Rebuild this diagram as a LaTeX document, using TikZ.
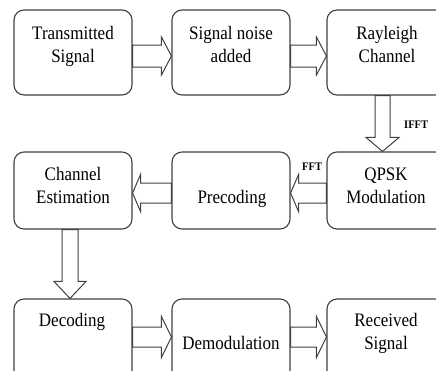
\documentclass[tikz,border=0pt]{standalone}
\usepackage{fontspec}
\setmainfont{Liberation Serif}
\usetikzlibrary{calc}
\tikzset{
  box/.style={draw=black!75, line width=1.1pt, rounded corners=10pt, fill=white, inner sep=0pt},
  txt/.style={anchor=north, align=center, inner sep=0pt, yscale=1.12, transform shape,
              font=\fontsize{17}{20.5}\selectfont},
  small/.style={inner sep=0pt, yscale=1.1, transform shape, font=\bfseries\fontsize{10.5}{12}\selectfont},
  barrow/.style={draw=black!75, line width=1pt, fill=white, line join=miter},
}
% right-pointing block arrow: from, to, ycenter, shaft half, head half, head length
\newcommand\rblock[6]{%
  \draw[barrow] let \p1=(#1.east |- 0,#3), \p2=(#2.west |- 0,#3) in
    (\x1,\y1+#4pt) -- (\x2-#6pt,\y1+#4pt) -- (\x2-#6pt,\y1+#5pt) -- (\x2,\y1)
    -- (\x2-#6pt,\y1-#5pt) -- (\x2-#6pt,\y1-#4pt) -- (\x1,\y1-#4pt) -- cycle;}
% left-pointing block arrow
\newcommand\lblock[6]{%
  \draw[barrow] let \p1=(#1.west |- 0,#3), \p2=(#2.east |- 0,#3) in
    (\x1,\y1+#4pt) -- (\x2+#6pt,\y1+#4pt) -- (\x2+#6pt,\y1+#5pt) -- (\x2,\y1)
    -- (\x2+#6pt,\y1-#5pt) -- (\x2+#6pt,\y1-#4pt) -- (\x1,\y1-#4pt) -- cycle;}
% down-pointing block arrow: from, to, xcenter, ...
\newcommand\dblock[6]{%
  \draw[barrow] let \p1=(#1.south -| #3,0), \p2=(#2.north -| #3,0) in
    (\x1-#4pt,\y1) -- (\x1-#4pt,\y2+#6pt) -- (\x1-#5pt,\y2+#6pt) -- (\x1,\y2)
    -- (\x1+#5pt,\y2+#6pt) -- (\x1+#4pt,\y2+#6pt) -- (\x1+#4pt,\y1) -- cycle;}
\begin{document}
\begin{tikzpicture}[x=1pt,y=-1pt]
\useasboundingbox (0,0) rectangle (436,370);
\clip (0,0) rectangle (436,370);
% boxes
\node[box, minimum width=118pt, minimum height=85pt] (b1) at (73,52.5) {};
\node[box, minimum width=118pt, minimum height=85pt] (b2) at (231,52.5) {};
\node[box, minimum width=118pt, minimum height=85pt] (b3) at (386,52.5) {};
\node[box, minimum width=118pt, minimum height=77pt] (b4) at (73,190.5) {};
\node[box, minimum width=118pt, minimum height=77pt] (b5) at (231,190.5) {};
\node[box, minimum width=118pt, minimum height=77pt] (b6) at (386,190.5) {};
\node[box, minimum width=118pt, minimum height=85pt] (b7) at (73,341.5) {};
\node[box, minimum width=118pt, minimum height=85pt] (b8) at (231,341.5) {};
\node[box, minimum width=118pt, minimum height=85pt] (b9) at (386,341.5) {};
% texts
\node[txt] (t1) at (73,22.9) {\strut Transmitted\\Signal};
\node[txt] (t2) at (231,22.9) {\strut Signal noise\\added};
\node[txt] (t3) at (387,22.9) {\strut Rayleigh\\Channel};
\node[txt] (t4) at (73,163.9) {\strut Channel\\Estimation};
\node[txt] (t5) at (232,186.9) {\strut Precoding};
\node[txt] (t6) at (386,163.9) {\strut QPSK\\Modulation};
\node[txt] (t7) at (72,309.9) {\strut Decoding};
\node[txt] (t8) at (231,332.9) {\strut Demodulation};
\node[txt] (t9) at (386,309.9) {\strut Received\\Signal};
% block arrows
\rblock{b1}{b2}{56}{11}{19}{10}
\rblock{b2}{b3}{56}{11}{19}{10}
\dblock{b3}{b6}{382.5}{7.5}{16.5}{14}
\lblock{b6}{b5}{193}{10}{18.5}{8}
\lblock{b5}{b4}{193}{10}{18.5}{8}
\dblock{b4}{b7}{70}{8}{16}{17}
\rblock{b7}{b8}{337}{10}{20.5}{10}
\rblock{b8}{b9}{337}{10}{20.5}{10}
% labels
\node[small, anchor=base west] (ifft) at (404,128) {IFFT};
\node[small, anchor=base west] (fft) at (302,170) {FFT};
\end{tikzpicture}
\end{document}
